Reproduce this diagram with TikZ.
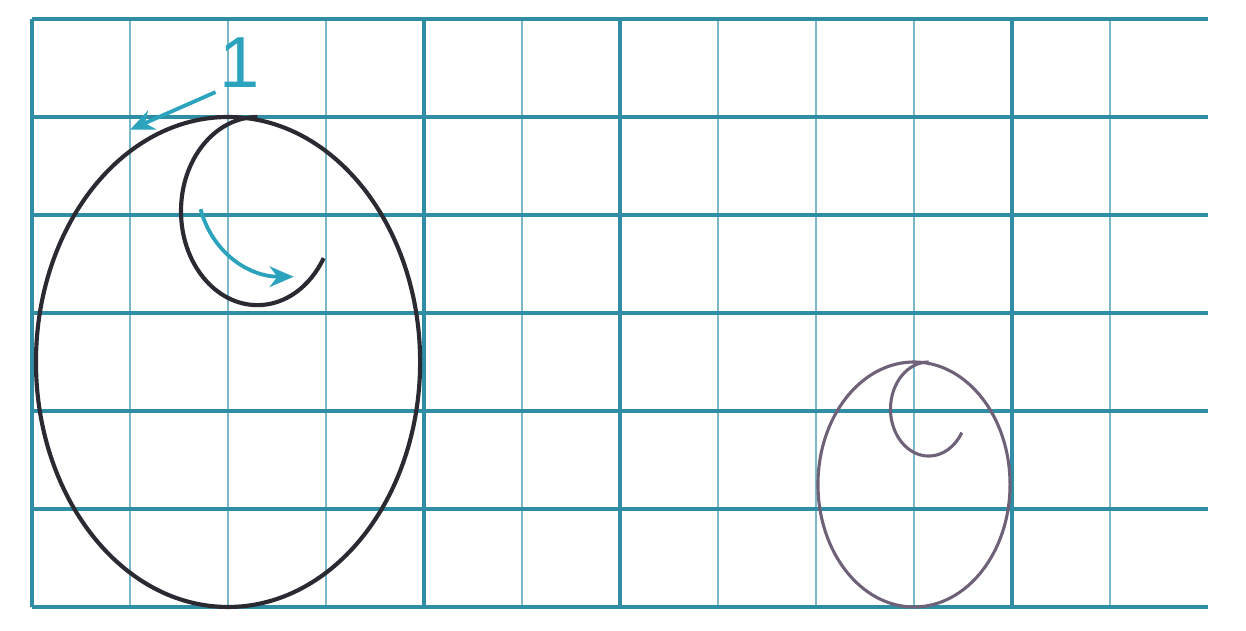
\documentclass[tikz,border=0pt]{standalone}
\usepackage{fontspec}
\setsansfont{Liberation Sans}
\usetikzlibrary{arrows.meta}
\definecolor{gridblue}{HTML}{2F8DA5}
\definecolor{thinblue}{HTML}{7DB8C8}
\definecolor{arrowblue}{HTML}{2BA3BC}
\definecolor{inkdark}{HTML}{2B2A33}
\definecolor{inklight}{HTML}{6E6178}

\begin{document}
\begin{tikzpicture}[
  major/.style={gridblue, line width=1.4pt},
  minor/.style={thinblue, line width=0.6pt},
  hint/.style={arrowblue, line width=1.1pt, -{Stealth[length=7pt,width=6pt]}},
  letter/.pic={
    \draw (2,2.5) ellipse [x radius=1.96, y radius=2.5];
    \draw (2.3,5.0) arc [start angle=90, end angle=330, x radius=0.78, y radius=0.96];
  }
]
  \useasboundingbox (-0.327,-0.245) rectangle (12.388,6.194);

  % grid
  \foreach \x in {1,2,3,5,7,8,9,11} \draw[minor] (\x,0) -- (\x,6);
  \foreach \x in {0,4,6,10} \draw[major] (\x,0) -- (\x,6);
  \foreach \y in {0,...,6} \draw[major] (0,\y) -- (12,\y);

  % letters
  \pic[inkdark, line width=1.2pt] {letter};
  \pic[inklight, line width=0.9pt, scale=0.5] at (8,0) {letter};

  % stroke hints
  \node (one) [font=\fontsize{21}{24}\selectfont\sffamily, text=arrowblue, inner sep=1pt] at (2.12,5.55) {1};
  \coordinate (onetip) at (1.0,4.87);
  \coordinate (turnA) at (1.72,4.06);
  \coordinate (turnB) at (2.67,3.37);

  \draw [hint] (one.south west) -- (onetip);
  \draw [hint] (turnA) to[out=-75, in=180] (turnB);
\end{tikzpicture}
\end{document}
